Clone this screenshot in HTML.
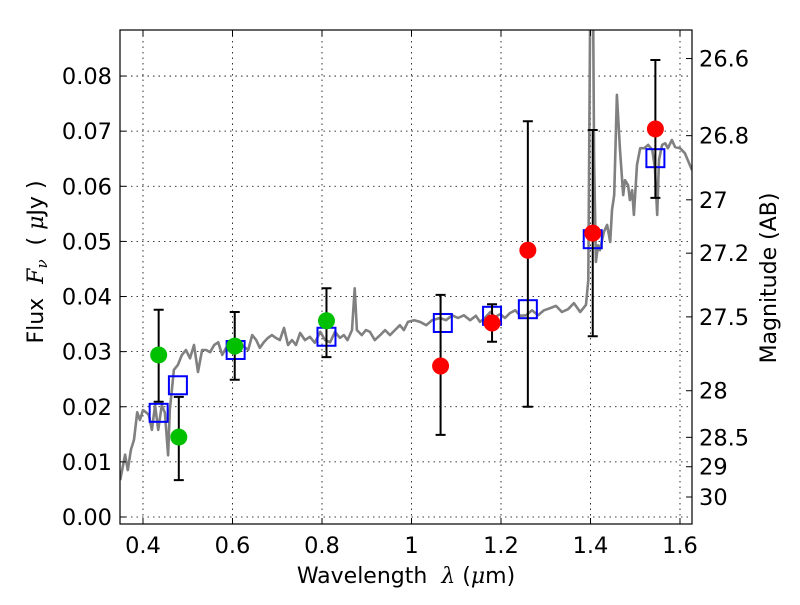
<!DOCTYPE html>
<html><head><meta charset="utf-8"><style>
body{margin:0;background:#fff}
svg text{font-family:"DejaVu Sans","Liberation Sans",sans-serif;fill:#000;white-space:pre}
</style></head><body>
<svg id="chart" width="800" height="600" xmlns="http://www.w3.org/2000/svg">
<defs><clipPath id="clip"><rect x="120" y="30" width="572" height="494"/></clipPath></defs>
<g id="grid"></g>
<g id="spec" clip-path="url(#clip)"></g>
<g id="marks"></g>
<rect x="120" y="30" width="572" height="494" fill="none" stroke="#000" stroke-width="1.2"/>
<g id="axes"></g>
<text x="406" y="583" font-size="22" text-anchor="middle">Wavelength  <tspan font-style="italic" font-family="DejaVu Serif,serif">λ</tspan> (<tspan font-style="italic" font-family="DejaVu Serif,serif">μ</tspan>m)</text>
<text transform="translate(43,262) rotate(-90)" font-size="22" text-anchor="middle">Flux  <tspan font-style="italic" font-family="DejaVu Serif,serif">F</tspan><tspan font-size="15" dy="4" font-style="italic" font-family="DejaVu Serif,serif">ν</tspan><tspan dy="-4">  ( </tspan><tspan font-style="italic" font-family="DejaVu Serif,serif">μ</tspan>Jy )</text>
<text transform="translate(776,278) rotate(-90)" font-size="22" text-anchor="middle">Magnitude (AB)</text>
</svg>
<script>
const xTicks=[0.4,0.6,0.8,1,1.2,1.4,1.6];
const xTickLabels=["0.4","0.6","0.8","1","1.2","1.4","1.6"];
const yTicks=[0,0.01,0.02,0.03,0.04,0.05,0.06,0.07,0.08];
const yTickLabels=["0.00","0.01","0.02","0.03","0.04","0.05","0.06","0.07","0.08"];
const magTicks=[26.6,26.8,27,27.2,27.5,28,28.5,29,30];
const magTickLabels=["26.6","26.8","27","27.2","27.5","28","28.5","29","30"];
const specWl=[0.349,0.360,0.366,0.373,0.380,0.387,0.393,0.400,0.407,0.413,0.420,0.427,0.434,0.442,0.449,0.456,0.460,0.469,0.478,0.487,0.496,0.505,0.514,0.523,0.532,0.541,0.550,0.559,0.568,0.577,0.586,0.594,0.603,0.612,0.621,0.635,0.644,0.653,0.661,0.670,0.679,0.688,0.697,0.706,0.715,0.724,0.733,0.742,0.751,0.762,0.773,0.784,0.796,0.807,0.818,0.829,0.840,0.849,0.857,0.867,0.873,0.878,0.889,0.898,0.907,0.918,0.930,0.941,0.952,0.963,0.974,0.983,0.992,1.006,1.019,1.033,1.046,1.064,1.077,1.091,1.104,1.117,1.131,1.144,1.153,1.164,1.176,1.187,1.198,1.209,1.220,1.232,1.243,1.256,1.269,1.283,1.296,1.310,1.323,1.336,1.350,1.363,1.377,1.390,1.395,1.399,1.406,1.408,1.412,1.417,1.421,1.430,1.437,1.444,1.448,1.453,1.459,1.466,1.473,1.477,1.484,1.488,1.493,1.497,1.504,1.511,1.520,1.529,1.538,1.544,1.549,1.553,1.560,1.567,1.573,1.582,1.589,1.600,1.611,1.627];
const specFlux=[0.0067,0.0113,0.0085,0.0122,0.0140,0.0190,0.0176,0.0194,0.0190,0.0185,0.0158,0.0203,0.0158,0.0203,0.0189,0.0112,0.0194,0.0267,0.0276,0.0294,0.0303,0.0288,0.0312,0.0263,0.0303,0.0303,0.0299,0.0312,0.0317,0.0294,0.0307,0.0312,0.0321,0.0317,0.0312,0.0303,0.0330,0.0321,0.0307,0.0317,0.0325,0.0330,0.0325,0.0321,0.0343,0.0312,0.0321,0.0312,0.0334,0.0321,0.0327,0.0316,0.0336,0.0321,0.0317,0.0336,0.0325,0.0330,0.0321,0.0339,0.0415,0.0339,0.0330,0.0339,0.0336,0.0321,0.0330,0.0339,0.0330,0.0339,0.0348,0.0339,0.0354,0.0357,0.0354,0.0348,0.0357,0.0361,0.0357,0.0366,0.0361,0.0366,0.0357,0.0365,0.0354,0.0361,0.0372,0.0363,0.0368,0.0361,0.0370,0.0375,0.0365,0.0366,0.0375,0.0366,0.0375,0.0379,0.0383,0.0372,0.0377,0.0388,0.0372,0.0385,0.0430,0.0902,0.0902,0.0648,0.0463,0.0493,0.0484,0.0517,0.0530,0.0499,0.0557,0.0584,0.0766,0.0666,0.0584,0.0611,0.0602,0.0575,0.0593,0.0548,0.0639,0.0669,0.0669,0.0675,0.0666,0.0633,0.0548,0.0648,0.0675,0.0678,0.0669,0.0684,0.0671,0.0669,0.0660,0.0629];
const greenWl=[0.435,0.48,0.605,0.81];
const greenFlux=[0.0294,0.0145,0.0310,0.0356];
const greenErrLo=[0.0209,0.0067,0.0249,0.0290];
const greenErrHi=[0.0376,0.0218,0.0372,0.0415];
const redWl=[1.065,1.18,1.26,1.405,1.545];
const redFlux=[0.0274,0.0352,0.0484,0.0515,0.0704];
const redErrLo=[0.0149,0.0318,0.0200,0.0328,0.0579];
const redErrHi=[0.0403,0.0386,0.0718,0.0702,0.0829];
const modelWl=[0.435,0.478,0.607,0.81,1.07,1.18,1.26,1.405,1.545];
const modelFlux=[0.0189,0.0239,0.0303,0.0327,0.0352,0.0365,0.0377,0.0504,0.0651];

const NS="http://www.w3.org/2000/svg";
const X=v=>143+(v-0.4)*447.5;
const Y=v=>517-v*5512;
const M=m=>Y(Math.pow(10,(23.9-m)/2.5));
function mk(tag,attrs,parent){const e=document.createElementNS(NS,tag);for(const k in attrs)e.setAttribute(k,attrs[k]);parent.appendChild(e);return e;}
const grid=document.getElementById('grid'),axes=document.getElementById('axes'),spec=document.getElementById('spec'),marks=document.getElementById('marks');
xTicks.forEach((t,i)=>{const x=X(t);
 let g=mk('line',{x1:x,x2:x,y1:30,y2:524,stroke:'#000','stroke-width':0.8,'stroke-dasharray':'1.5,4'},grid);
 
 let tk=mk('path',{d:`M${x},524v-6M${x},30v6`,stroke:'#000','stroke-width':1},axes);
 
 let l=mk('text',{x:x,y:553,'font-size':22.5,'text-anchor':'middle'},axes);l.textContent=xTickLabels[i];
 });
yTicks.forEach((t,i)=>{const y=Y(t);
 let g=mk('line',{x1:120,x2:692,y1:y,y2:y,stroke:'#000','stroke-width':0.8,'stroke-dasharray':'1.5,4'},grid);
 
 let tk=mk('path',{d:`M120,${y}h6`,stroke:'#000','stroke-width':1},axes);
 
 let l=mk('text',{x:112,y:y+8,'font-size':22.5,'text-anchor':'end'},axes);l.textContent=yTickLabels[i];
 });
magTicks.forEach((m,i)=>{const y=M(m);
 let tk=mk('path',{d:`M692,${y}h-6`,stroke:'#000','stroke-width':1},axes);
 
 let l=mk('text',{x:699,y:y+8,'font-size':22.5},axes);l.textContent=magTickLabels[i];
 });
let d=specWl.map((w,i)=>(i?'L':'M')+X(w).toFixed(1)+','+Y(specFlux[i]).toFixed(1)).join('');
let sp=mk('path',{d:d,fill:'none',stroke:'#808080','stroke-width':2.6,'stroke-linejoin':'round'},spec);

function errbar(w,lo,hi){const x=X(w),a=Y(hi),b=Y(lo);
 let e=mk('path',{d:`M${x},${a}V${b}M${x-5},${a}h10M${x-5},${b}h10`,stroke:'#000','stroke-width':2,fill:'none'},marks);
 }
modelWl.forEach((w,i)=>{let r=mk('rect',{x:X(w)-9,y:Y(modelFlux[i])-9,width:18,height:18,fill:'none',stroke:'#0000ff','stroke-width':2},marks);
 });
greenWl.forEach((w,i)=>{errbar(w,greenErrLo[i],greenErrHi[i]);
 let c=mk('circle',{cx:X(w),cy:Y(greenFlux[i]),r:8.5,fill:'#00c000'},marks);
 });
redWl.forEach((w,i)=>{errbar(w,redErrLo[i],redErrHi[i]);
 let c=mk('circle',{cx:X(w),cy:Y(redFlux[i]),r:8.5,fill:'#ff0000'},marks);
 });
</script>
</body></html>
